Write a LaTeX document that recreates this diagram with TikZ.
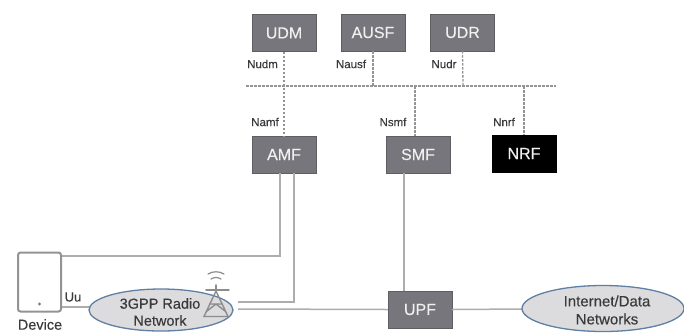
\documentclass[tikz,border=0pt]{standalone}
\usepackage{fontspec}
\setmainfont[FakeBold=0.25]{Liberation Sans}
\usetikzlibrary{shapes.geometric}
\definecolor{boxgray}{HTML}{76767C}
\definecolor{linegray}{HTML}{ADADAD}
\definecolor{dashgray}{HTML}{949494}
\definecolor{ellfill}{HTML}{DCDCDE}
\definecolor{ellline}{HTML}{5F7FA3}
\definecolor{txt}{HTML}{3A3A3A}
\tikzset{
  nf/.style={draw=boxgray!80!black,fill=boxgray,minimum width=64pt,minimum height=37pt,inner sep=0pt,text=white!88!gray,font=\fontsize{16}{16}\selectfont},
  nrfbox/.style={nf,draw=black,fill=black},
  cloud/.style={ellipse,draw=ellline,line width=1.3pt,fill=ellfill,inner sep=0pt},
  cloudtext/.style={align=center,inner sep=0pt,text=txt,font=\fontsize{15}{18}\selectfont},
  lbl/.style={text=txt,font=\fontsize{11.5}{12}\selectfont,inner sep=0pt},
  bus/.style={draw=dashgray,line width=1.3pt,dash pattern=on 2.5pt off 1.5pt},
  wire/.style={draw=linegray,line width=1.5pt},
  tower/.style={draw=gray!90,line width=1.4pt,line cap=round}
}
\begin{document}
\begin{tikzpicture}[x=1pt,y=-1pt]
\useasboundingbox (0,0) rectangle (684,333);
% coordinates of the bus and wire corners
\coordinate (busL) at (246,86);
\coordinate (busR) at (556,86);
\coordinate (j1) at (284,86);
\coordinate (j2) at (373,86);
\coordinate (j3) at (463,86);
\coordinate (j4) at (415,86);
\coordinate (j5) at (524,86);
\coordinate (c1) at (280,256);
\coordinate (c2) at (294,302);
\coordinate (s2) at (238,302);
\coordinate (s3) at (238,309);
\coordinate (a1) at (280,173);
\coordinate (a2) at (294,173);
\coordinate (d1) at (62,256);
\coordinate (d2) at (62,307);
\coordinate (e1) at (90,307);
% nodes
\node[nf] (udm) at (284,33) {UDM};
\node[nf] (ausf) at (373,32.5) {AUSF};
\node[nf] (udr) at (462.5,32.5) {UDR};
\node[nf] (amf) at (284,154.5) {AMF};
\node[nf] (smf) at (418,154.5) {SMF};
\node[nrfbox] (nrf) at (524,153.5) {NRF};
\node[nf] (upf) at (420,309.5) {UPF};
% wires behind the clouds
\draw[wire] (d1) -- (c1) -- (a1);
\draw[wire] (s2) -- (c2) -- (a2);
\draw[wire] (s3) -- (upf.west);
\draw[wire] (d2) -- (e1);
\draw[wire] (smf.south -| 404,0) -- (upf.north -| 404,0);
\draw[wire] (upf.east) -- (524,309);
% service bus
\draw[bus] (busL) -- (busR);
\draw[bus] (udm.south) -- (j1) -- (amf.north);
\draw[bus] (ausf.south) -- (j2);
\draw[bus] (udr.south) -- (j3);
\draw[bus] (j4) -- (j4 |- smf.north);
\draw[bus] (j5) -- (nrf.north);
% device
\node[draw=gray!85,line width=2pt,rounded corners=2.5pt,minimum width=43pt,minimum height=59pt,inner sep=0pt] (dev) at (39.5,282) {};
\fill[gray] (39.5,304) circle (1.6pt);
\node[text=txt,font=\fontsize{14.5}{15}\selectfont,inner sep=0pt] (devl) at (40,324.5) {Device};
% clouds
\node[cloud,minimum width=144pt,minimum height=42pt] (ran) at (161,310) {};
\node[cloudtext,font=\fontsize{14.5}{17}\selectfont] (ranl) at (160,312) {3GPP Radio\\Network};
\node[cloud,minimum width=162pt,minimum height=46pt] (inet) at (603,308.5) {};
\node[cloudtext] (inetl) at (607,310) {Internet/Data\\Networks};
% antenna
\draw[tower] (206,290) -- (229,290);
\draw[tower] (216,285) -- (216,290);
\draw[tower] (216,291) -- (204,316.5) -- (228,316.5) -- cycle;
\draw[tower] (210,304) -- (222,304) (207,311) -- (216,304) -- (225,311);
\draw[tower,line width=1.2pt] (208,274) .. controls (213,271) and (219,271) .. (224,274);
\draw[tower,line width=1.2pt] (211,279) .. controls (214,277) and (218,277) .. (221,279);
% labels
\node[lbl] (l1) at (262.5,64) {Nudm};
\node[lbl] (l2) at (351,64) {Nausf};
\node[lbl] (l3) at (444,64) {Nudr};
\node[lbl] (l4) at (265,122) {Namf};
\node[lbl] (l5) at (393,122) {Nsmf};
\node[lbl] (l6) at (504,122) {Nnrf};
\node[text=txt,font=\fontsize{13}{13}\selectfont,inner sep=0pt] (l7) at (73,297) {Uu};
\end{tikzpicture}
\end{document}
